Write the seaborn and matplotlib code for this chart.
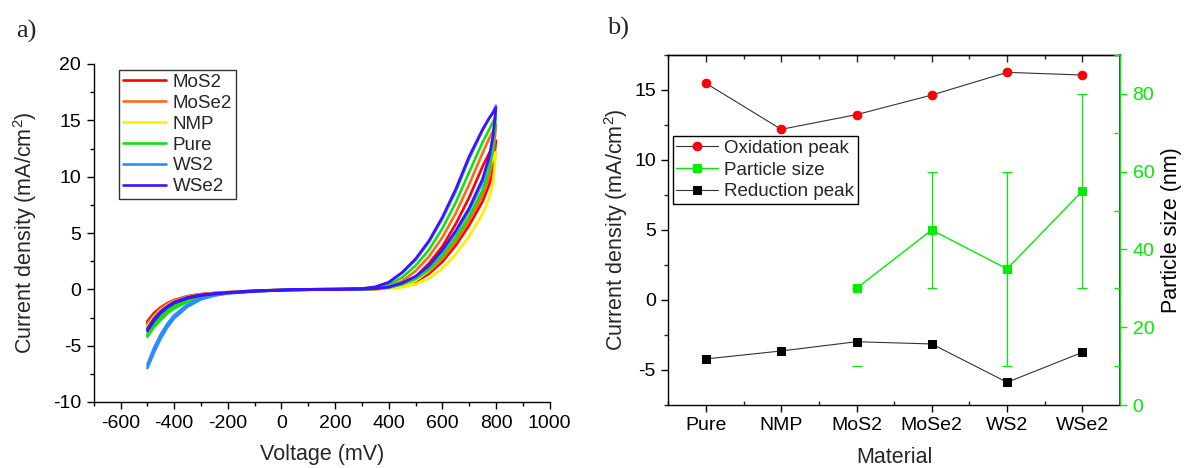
import numpy as np
import pandas as pd
import matplotlib
matplotlib.use("Agg")
import matplotlib.pyplot as plt
from matplotlib.ticker import MultipleLocator
import seaborn as sns

sns.set_theme(style="ticks")
plt.rcParams['font.family'] = ['Liberation Sans', 'DejaVu Sans']
plt.rcParams['mathtext.default'] = 'regular'
plt.rcParams['axes.unicode_minus'] = False

# ---------------- Panel a data (cyclic voltammograms) ----------------
voltage_grid = [-500, -475, -450, -425, -400, -350, -300, -250, -200, -100, 0, 100, 200,
                300, 350, 400, 450, 500, 550, 600, 650, 700, 750, 775, 790, 800]

cv_materials = ["MoS2", "MoSe2", "NMP", "Pure", "WS2", "WSe2"]
cv_colors = ["#ff0000", "#ff6a14", "#ffee00", "#11e011", "#2a8cff", "#4010ff"]

mos2_fwd = [-3.0, -2.35, -1.84, -1.42, -1.1, -0.71, -0.5, -0.38, -0.3, -0.16, -0.08, -0.03, 0.0,
            0.0, 0.02, 0.08, 0.27, 0.69, 1.38, 2.44, 3.9, 5.68, 7.8, 9.3, 10.9, 13.2]
mos2_rev = [-2.85, -2.1, -1.6, -1.22, -0.95, -0.6, -0.42, -0.32, -0.25, -0.12, -0.05, 0.0, 0.02,
            0.03, 0.06, 0.16, 0.45, 1.1, 2.3, 3.8, 5.8, 8.15, 10.9, 12.1, 12.7, 13.2]
mose2_fwd = [-3.2, -2.5, -1.95, -1.5, -1.15, -0.74, -0.52, -0.4, -0.3, -0.16, -0.08, -0.03, 0.0,
             0.0, 0.03, 0.12, 0.35, 0.82, 1.57, 2.7, 4.25, 6.1, 8.35, 10.0, 11.8, 14.6]
mose2_rev = [-3.05, -2.3, -1.72, -1.3, -1.0, -0.63, -0.44, -0.34, -0.26, -0.12, -0.05, 0.0, 0.02,
             0.04, 0.09, 0.26, 0.72, 1.63, 2.9, 4.6, 6.75, 9.3, 12.1, 13.4, 14.1, 14.6]
nmp_fwd = [-3.5, -2.7, -2.1, -1.6, -1.25, -0.8, -0.55, -0.42, -0.32, -0.18, -0.1, -0.05, -0.02,
           0.0, 0.02, 0.06, 0.18, 0.45, 0.95, 1.85, 3.1, 4.7, 6.7, 8.1, 9.6, 12.2]
nmp_rev = [-3.3, -2.45, -1.85, -1.4, -1.08, -0.68, -0.47, -0.36, -0.27, -0.13, -0.06, -0.02, 0.0,
           0.02, 0.04, 0.1, 0.28, 0.75, 1.7, 3.0, 4.7, 6.9, 9.5, 10.9, 11.6, 12.2]
pure_fwd = [-4.2, -3.35, -2.72, -2.12, -1.69, -1.1, -0.71, -0.5, -0.35, -0.18, -0.09, -0.04, -0.01,
            0.0, 0.04, 0.15, 0.43, 0.92, 1.74, 2.97, 4.55, 6.44, 8.8, 10.6, 12.6, 15.4]
pure_rev = [-4.0, -3.1, -2.45, -1.9, -1.5, -0.95, -0.62, -0.44, -0.3, -0.14, -0.06, 0.0, 0.02,
            0.05, 0.14, 0.42, 1.05, 2.1, 3.5, 5.4, 7.7, 10.4, 13.05, 14.2, 14.9, 15.4]
ws2_fwd = [-7.0, -5.6, -4.35, -3.35, -2.57, -1.54, -0.89, -0.56, -0.36, -0.18, -0.08, -0.03, 0.0,
           0.01, 0.05, 0.18, 0.52, 1.08, 2.0, 3.35, 5.0, 7.0, 9.5, 11.5, 13.5, 16.3]
ws2_rev = [-6.7, -5.2, -4.0, -3.05, -2.3, -1.35, -0.78, -0.48, -0.3, -0.14, -0.05, 0.0, 0.02,
           0.06, 0.2, 0.6, 1.45, 2.6, 4.2, 6.25, 8.7, 11.6, 14.1, 15.2, 15.8, 16.3]
wse2_fwd = [-3.7, -2.8, -2.13, -1.62, -1.24, -0.8, -0.55, -0.42, -0.32, -0.17, -0.08, -0.03, 0.0,
            0.01, 0.06, 0.2, 0.57, 1.15, 2.1, 3.5, 5.2, 7.2, 9.8, 11.8, 13.8, 16.1]
wse2_rev = [-3.5, -2.6, -1.95, -1.48, -1.12, -0.7, -0.48, -0.36, -0.27, -0.13, -0.05, 0.0, 0.02,
            0.07, 0.22, 0.63, 1.5, 2.7, 4.3, 6.4, 8.9, 11.8, 14.2, 15.2, 15.7, 16.1]

cv_forward = [mos2_fwd, mose2_fwd, nmp_fwd, pure_fwd, ws2_fwd, wse2_fwd]
cv_reverse = [mos2_rev, mose2_rev, nmp_rev, pure_rev, ws2_rev, wse2_rev]

# ---------------- Panel b data ----------------
materials = ["Pure", "NMP", "MoS2", "MoSe2", "WS2", "WSe2"]
oxidation_peak = [15.48, 12.19, 13.24, 14.64, 16.26, 16.07]
reduction_peak = [-4.21, -3.64, -2.98, -3.14, -5.88, -3.74]
particle_materials = ["MoS2", "MoSe2", "WS2", "WSe2"]
particle_size = [30, 45, 35, 55]
particle_err_low = [20, 15, 25, 25]
particle_err_high = [0, 15, 25, 25]

GREEN = "#00ee00"
TICK_FS = 14
LABEL_FS = 15.5
LEG_FS = 13.5

fig = plt.figure(figsize=(11.84, 4.68), dpi=100)
W, H = 1184, 468

# ---------------- Panel a ----------------
ax1 = fig.add_axes([93.7 / W, 1 - 402 / H, (549.6 - 93.7) / W, (402 - 64) / H])
for name, col, fwd, rev in zip(cv_materials, cv_colors, cv_forward, cv_reverse):
    vx = list(voltage_grid) + list(voltage_grid[::-1])
    iy = list(fwd) + list(rev[::-1])
    sns.lineplot(x=vx, y=iy, sort=False, estimator=None, color=col, lw=1.9,
                 label=name, ax=ax1)
ax1.set_xlim(-700, 1000)
ax1.set_ylim(-10, 20)
ax1.xaxis.set_major_locator(MultipleLocator(200))
ax1.xaxis.set_minor_locator(MultipleLocator(100))
ax1.yaxis.set_major_locator(MultipleLocator(5))
ax1.yaxis.set_minor_locator(MultipleLocator(2.5))
for s in ["top", "right"]:
    ax1.spines[s].set_visible(False)
for s in ["left", "bottom"]:
    ax1.spines[s].set_color("black")
    ax1.spines[s].set_linewidth(1.0)
ax1.tick_params(which="major", direction="out", length=5, width=1, labelsize=TICK_FS,
                colors="black", pad=4)
ax1.tick_params(which="minor", direction="out", length=3, width=1, colors="black")
ax1.set_xlabel("Voltage (mV)", fontsize=LABEL_FS, labelpad=9)
ax1.set_ylabel(r"Current density (mA/cm$^{2}$)", fontsize=LABEL_FS, labelpad=10)
leg1 = ax1.legend(loc="upper left", bbox_to_anchor=(0.0555, 0.982), borderaxespad=0,
                  fontsize=LEG_FS, frameon=True, fancybox=False, edgecolor="black",
                  handlelength=2.3, handletextpad=0.35, labelspacing=0.2, borderpad=0.2)
leg1.get_frame().set_linewidth(1.0)
for ln in leg1.get_lines():
    ln.set_linewidth(1.9)

# ---------------- Panel b ----------------
axr = fig.add_axes([668.3 / W, 1 - 405 / H, (1120 - 668.3) / W, (405 - 55) / H])
xpos = np.arange(len(materials))
ppos = np.array([materials.index(m) for m in particle_materials])

sns.lineplot(x=xpos, y=oxidation_peak, color="#333333", lw=0.8, marker="o",
             markersize=6.2, markerfacecolor="#ff0000", markeredgecolor="#ff0000",
             label="Oxidation peak", ax=axr, zorder=3)
sns.lineplot(x=xpos, y=reduction_peak, color="#333333", lw=0.8, marker="s",
             markersize=5.3, markerfacecolor="black", markeredgecolor="black",
             label="Reduction peak", ax=axr, zorder=3)
axr.set_xlim(-0.5, 5.5)
axr.set_ylim(-7.5, 17.5)
axr.set_xticks(xpos)
axr.set_xticklabels(materials)
axr.xaxis.set_minor_locator(MultipleLocator(0.5))
axr.yaxis.set_major_locator(MultipleLocator(5))
axr.yaxis.set_minor_locator(MultipleLocator(2.5))
for s in ["left", "bottom", "top"]:
    axr.spines[s].set_color("black")
    axr.spines[s].set_linewidth(1.0)
axr.tick_params(axis="both", which="major", direction="out", length=5, width=1,
                labelsize=TICK_FS, colors="black", pad=4)
axr.tick_params(axis="x", which="minor", direction="in", length=3, width=1)
axr.tick_params(axis="y", which="minor", direction="out", length=3, width=1)
axr.set_xlabel("Material", fontsize=LABEL_FS, labelpad=9)
axr.set_ylabel(r"Current density (mA/cm$^{2}$)", fontsize=LABEL_FS, labelpad=3)

# top ticks pointing inward
sec = axr.secondary_xaxis("top")
sec.set_xticks(xpos)
sec.xaxis.set_minor_locator(MultipleLocator(0.5))
sec.tick_params(which="major", direction="in", length=5, width=1, labeltop=False)
sec.tick_params(which="minor", direction="in", length=3, width=1)
sec.spines["top"].set_linewidth(1.0)
axr.tick_params(axis="x", which="both", top=False)

ax2 = axr.twinx()
eb = ax2.errorbar(ppos, particle_size, yerr=[particle_err_low, particle_err_high], fmt="none",
                  ecolor=GREEN, elinewidth=0.9, capsize=3.5, capthick=0.9, zorder=1)
eb[2][0].set_linewidth([0, 0.9, 0.9, 0.9])
sns.lineplot(x=ppos, y=particle_size, color=GREEN, lw=1.0, marker="s", markersize=5.3,
             markerfacecolor=GREEN, markeredgecolor=GREEN, label="Particle size", ax=ax2, zorder=3)
ax2.set_ylim(0, 90)
ax2.yaxis.set_major_locator(MultipleLocator(20))
ax2.yaxis.set_minor_locator(MultipleLocator(10))
ax2.spines["right"].set_color(GREEN)
ax2.spines["right"].set_linewidth(1.0)
for s in ["left", "top", "bottom"]:
    ax2.spines[s].set_visible(False)
ax2.tick_params(axis="y", which="major", direction="out", length=5, width=1, colors=GREEN,
                labelcolor=GREEN, labelsize=TICK_FS, pad=4)
ax2.tick_params(axis="y", which="minor", direction="in", length=4, width=1, colors=GREEN)
ax2.set_ylabel("Particle size (nm)", fontsize=LABEL_FS, color="black", labelpad=5)

h1, l1 = axr.get_legend_handles_labels()
h2, l2 = ax2.get_legend_handles_labels()
if axr.get_legend() is not None:
    axr.get_legend().remove()
if ax2.get_legend() is not None:
    ax2.get_legend().remove()
handles = [h1[0], h2[0], h1[1]]
labels = [l1[0], l2[0], l1[1]]
leg2 = ax2.legend(handles, labels, loc="upper left", bbox_to_anchor=(0.0095, 0.7686),
                  borderaxespad=0, fontsize=LEG_FS, frameon=True, fancybox=False,
                  edgecolor="black", framealpha=1, handlelength=2.2, handletextpad=0.35,
                  labelspacing=0.25, borderpad=0.2)
leg2.get_frame().set_linewidth(1.0)

# panel letters
fig.text(26.8 / W, 1 - 31.7 / H, "a)", fontsize=19, family="Liberation Serif",
         ha="center", va="center")
fig.text(618.4 / W, 1 - 28.3 / H, "b)", fontsize=19, family="Liberation Serif",
         ha="center", va="center")

fig.savefig("out.png", dpi=100)
